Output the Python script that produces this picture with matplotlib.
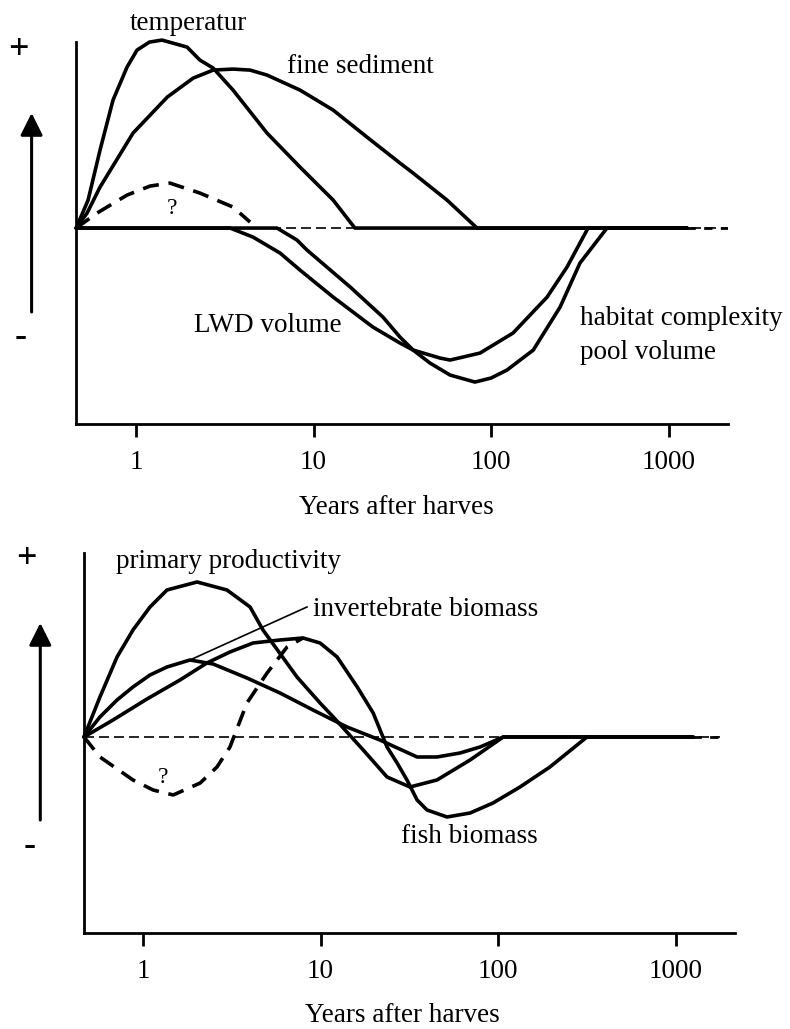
import matplotlib.pyplot as plt
from matplotlib.ticker import NullLocator

plt.rcParams["font.family"] = ["Liberation Serif", "DejaVu Serif"]

# --- top panel: physical habitat (years after harvest vs relative change) ---
temp_x = [0.46, 0.537, 0.627, 0.742, 0.89, 1.013, 1.19, 1.40, 1.94, 2.29, 2.72, 3.52, 5.47, 8.39, 12.9, 17.1, 1270]
temp_y = [0, 0.28, 0.78, 1.28, 1.61, 1.78, 1.86, 1.88, 1.81, 1.68, 1.60, 1.38, 0.95, 0.61, 0.28, 0, 0]

sed_x = [0.46, 0.53, 0.627, 0.962, 1.50, 2.10, 2.72, 3.52, 4.39, 5.47, 8.39, 12.9, 20.0, 30.7, 36.4, 56.5, 83.4, 1270]
sed_y = [0, 0.15, 0.41, 0.95, 1.31, 1.50, 1.58, 1.59, 1.58, 1.53, 1.38, 1.18, 0.91, 0.65, 0.55, 0.28, 0, 0]

q_top_x = [0.46, 0.603, 0.89, 1.20, 1.55, 2.29, 3.52, 4.39]
q_top_y = [0, 0.15, 0.33, 0.42, 0.45, 0.35, 0.21, 0.06]

lwd_x = [0.46, 3.39, 4.56, 6.48, 8.39, 12.9, 21.6, 30.7, 36.4, 51.6, 58.8, 86.7, 133, 207, 268, 352, 1270]
lwd_y = [0, 0, -0.09, -0.25, -0.42, -0.69, -0.99, -1.15, -1.22, -1.30, -1.32, -1.25, -1.05, -0.69, -0.39, 0, 0]

hab_x = [0.46, 6.23, 8.07, 9.19, 16.1, 24.6, 30.7, 36.4, 45.3, 58.8, 81.2, 100, 123, 173, 245, 317, 450, 1270]
hab_y = [0, 0, -0.12, -0.22, -0.59, -0.89, -1.09, -1.22, -1.35, -1.47, -1.54, -1.50, -1.42, -1.22, -0.79, -0.35, 0, 0]

# --- bottom panel: biological responses ---
pp_x = [0.465, 0.572, 0.714, 0.878, 1.095, 1.365, 2.015, 2.97, 4.01, 4.74, 7.37, 9.94, 11.8, 17.4, 23.7, 31.9, 45.3, 69.6, 107, 1255]
pp_y = [0, 0.40, 0.80, 1.07, 1.30, 1.47, 1.55, 1.47, 1.30, 1.07, 0.60, 0.34, 0.20, -0.13, -0.40, -0.50, -0.43, -0.23, 0, 0]

inv_x = [0.465, 0.572, 0.714, 0.878, 1.095, 1.365, 1.84, 2.48, 3.85, 5.91, 9.07, 14.1, 21.6, 35.0, 45.3, 61.1, 79.2, 107, 1255]
inv_y = [0, 0.20, 0.37, 0.50, 0.62, 0.70, 0.77, 0.73, 0.59, 0.44, 0.27, 0.10, -0.03, -0.20, -0.20, -0.16, -0.10, 0, 0]

fish_x = [0.465, 0.678, 1.053, 1.616, 2.29, 3.09, 4.17, 5.91, 7.97, 9.94, 12.4, 16.1, 19.8, 23.7, 27.0,
          30.7, 35.0, 39.8, 51.6, 69.6, 93.7, 133, 196, 317, 1255]
fish_y = [0, 0.17, 0.38, 0.57, 0.74, 0.85, 0.94, 0.97, 0.99, 0.94, 0.80, 0.50, 0.24, -0.10, -0.26,
          -0.43, -0.63, -0.73, -0.80, -0.76, -0.66, -0.50, -0.30, 0, 0]

q_bot_x = [0.465, 0.572, 0.878, 1.14, 1.48, 2.10, 2.61, 3.09, 3.85, 5.0, 6.48, 7.97]
q_bot_y = [0, -0.20, -0.43, -0.53, -0.58, -0.46, -0.30, -0.10, 0.34, 0.64, 0.90, 0.99]

tick_vals = [1, 10, 100, 1000]
tick_labels = ["1", "10", "100", "1000"]
x_label = "Years after harves"

FS = 19.5
LW = 2.6
Q_DASH = (4.5, 2.7)

fig = plt.figure(figsize=(7.9, 10.29), dpi=100)
ax1 = fig.add_axes([0.0962, 0.5879, 0.8253, 0.3712])
ax2 = fig.add_axes([0.1063, 0.0933, 0.8241, 0.3693])


def style_axes(ax, x_start, x_end, y_lo, y_hi):
    ax.set_xscale("log")
    ax.set_xlim(x_start, x_end)
    ax.set_ylim(y_lo, y_hi)
    ax.set_xticks(tick_vals)
    ax.set_xticklabels(tick_labels)
    ax.xaxis.set_minor_locator(NullLocator())
    ax.set_yticks([])
    for side in ["top", "right"]:
        ax.spines[side].set_visible(False)
    for side in ["left", "bottom"]:
        ax.spines[side].set_linewidth(2.0)
    ax.tick_params(axis="x", direction="out", length=9.5, width=2.0, labelsize=FS, pad=9)


def curve(ax, x, y, **kw):
    ax.plot(x, y, color="black", lw=LW, solid_joinstyle="round", solid_capstyle="round",
            clip_on=False, **kw)


# top panel
style_axes(ax1, 0.459, 2163, -1.96, 1.86)
ax1.axhline(0, color="black", lw=1.2, dashes=(6, 3))
ax1.plot([1270, 2163], [0, 0], color="black", lw=2.0, dashes=(3, 3))
curve(ax1, temp_x, temp_y)
curve(ax1, sed_x, sed_y)
curve(ax1, lwd_x, lwd_y)
curve(ax1, hab_x, hab_y)
ax1.plot(q_top_x, q_top_y, color="black", lw=LW, dashes=Q_DASH, clip_on=False)

ax1.text(1.96, 2.05, "temperatur", fontsize=FS, ha="center", va="center")
ax1.text(18.3, 1.62, "fine sediment", fontsize=FS, ha="center", va="center")
ax1.text(1.60, 0.20, "?", fontsize=17, ha="center", va="center")
ax1.text(5.54, -0.97, "LWD volume", fontsize=FS, ha="center", va="center")
ax1.text(317, -0.90, "habitat complexity", fontsize=FS, ha="left", va="center")
ax1.text(317, -1.24, "pool volume", fontsize=FS, ha="left", va="center")

# bottom panel
style_axes(ax2, 0.465, 2163, -1.96, 1.84)
ax2.axhline(0, xmax=0.977, color="black", lw=1.2, dashes=(6, 3))
ax2.plot([1255, 1780], [0, 0], color="black", lw=2.0, dashes=(3, 3))
curve(ax2, pp_x, pp_y)
curve(ax2, inv_x, inv_y)
curve(ax2, fish_x, fish_y)
ax2.plot(q_bot_x, q_bot_y, color="black", lw=LW, dashes=Q_DASH, clip_on=False)

ax2.text(3.05, 1.75, "primary productivity", fontsize=FS, ha="center", va="center")
ax2.text(9.07, 1.27, "invertebrate biomass", fontsize=FS, ha="left", va="center")
ax2.plot([8.39, 1.84], [1.30, 0.77], color="black", lw=1.2)
ax2.text(68.7, -1.00, "fish biomass", fontsize=FS, ha="center", va="center")
ax2.text(1.30, -0.41, "?", fontsize=17, ha="center", va="center")

# x labels
fig.text(396 / 790, 1 - 508 / 1029, x_label, fontsize=FS, ha="center", va="center")
fig.text(402 / 790, 1 - 1015 / 1029, x_label, fontsize=FS, ha="center", va="center")

# +/- signs and direction arrows on the left
for x_pm, y_plus, y_minus, y_tail, y_tip in [(0.023, 0.951, 0.672, 0.6968, 0.8902),
                                             (0.034, 0.456, 0.177, 0.2031, 0.3946)]:
    fig.text(x_pm, y_plus, "+", fontsize=26, fontweight="bold", ha="center", va="center")
    fig.text(x_pm + 0.003, y_minus, "-", fontsize=26, fontweight="bold", ha="center", va="center")
    x_arrow = x_pm + 0.017
    fig.add_artist(plt.Annotation("", xy=(x_arrow, y_tip), xytext=(x_arrow, y_tail),
                                  xycoords="figure fraction",
                                  arrowprops=dict(arrowstyle="-|>", lw=2.2, color="black",
                                                  mutation_scale=34, shrinkA=0, shrinkB=0)))

fig.savefig("out.png", dpi=100)
